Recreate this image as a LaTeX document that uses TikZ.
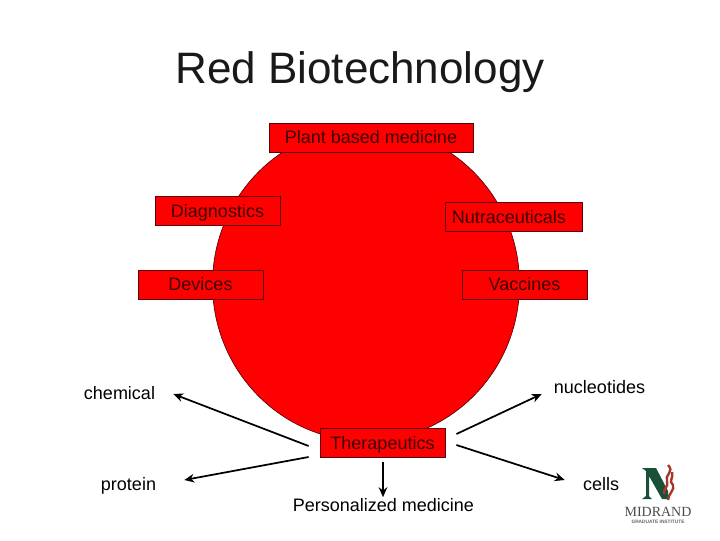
\documentclass[tikz,border=0pt]{standalone}
\usepackage{fontspec}
\setmainfont{Liberation Sans}
\newfontfamily\logofont{Liberation Serif}
\usetikzlibrary{arrows.meta}
\definecolor{boxred}{RGB}{255,0,0}
\definecolor{boxline}{RGB}{90,0,10}
\definecolor{boxtext}{RGB}{60,0,0}
\definecolor{logogreen}{RGB}{25,80,55}
\definecolor{logored}{RGB}{165,55,45}
\tikzset{
  box/.style={draw=boxline, line width=0.6pt, fill=boxred, text=boxtext, font=\fontsize{13.5}{16}\selectfont, inner sep=0pt, minimum height=21.75pt, text height=10.5pt, text depth=0.8pt},
  term/.style={text=black, font=\fontsize{13.5}{16}\selectfont, inner sep=0pt, text height=10.5pt, text depth=0.8pt},
  branch/.style={draw=black, line width=1.3pt, -{Stealth[length=7.5pt,width=6.5pt]}},
  ribbon/.style={draw=logored, line width=1.8pt}
}
\begin{document}
\begin{tikzpicture}[x=0.75pt, y=-0.75pt]
    \useasboundingbox (0, 0) rectangle (720, 540);
    \node[font=\fontsize{33}{38}\selectfont, inner sep=0pt, text=black!90] (title) at (360, 72) {Red Biotechnology};
    \draw[draw=boxline, line width=0.5pt, fill=boxred] (366, 284) ellipse [x radius=153.5, y radius=157];
    \node[box, minimum width=153pt] (plant) at (371, 137.5) {Plant based medicine};
    \node[box, minimum width=93.75pt] (diagnostics) at (217.5, 211) {Diagnostics};
    \node[box, minimum width=102.75pt] (nutraceuticals) at (513.5, 217) {Nutraceuticals\kern7pt};
    \node[box, minimum width=93.75pt] (devices) at (200.5, 284.5) {Devices};
    \node[box, minimum width=93.75pt] (vaccines) at (524.5, 284.5) {Vaccines};
    \node[box, minimum width=93.75pt] (therapeutics) at (382.5, 443) {Therapeutics};
    \node[term] (chemical) at (119.5, 393) {chemical};
    \node[term] (nucleotides) at (599.5, 387) {nucleotides};
    \node[term] (protein) at (128.5, 484) {protein};
    \node[term] (cells) at (601, 484) {cells};
    \node[term] (personalized) at (383.5, 505) {Personalized medicine};
    % arrows stop short of the boxes and labels
    \draw[branch] ([shift={(-11, 3)}]therapeutics.west) -- ([shift={(18, 1)}]chemical.east);
    \draw[branch] ([shift={(-11, 14)}]therapeutics.west) -- ([shift={(28, -4)}]protein.east);
    \draw[branch] ([shift={(11, -9)}]therapeutics.east) -- ([shift={(-12, 7)}]nucleotides.west);
    \draw[branch] ([shift={(11, 2)}]therapeutics.east) -- ([shift={(-18, -4)}]cells.west);
    \draw[branch] ([shift={(0.5, 4)}]therapeutics.south) -- ([shift={(-0.5, 0)}]personalized.north);
    % logo
    \fill[logogreen] (642, 468) -- (656, 468) -- (668, 491) -- (668, 499) -- (662, 499) -- (649, 476) -- (649, 496) -- (652, 499) -- (642, 499) -- (646, 496) -- (646, 471) -- cycle;
    \draw[ribbon] (668, 465) .. controls (675, 472) and (664, 475) .. (667, 481) .. controls (669, 486) and (663, 490) .. (664, 494);
    \draw[ribbon] (672, 472) .. controls (674, 478) and (668, 481) .. (673, 485) .. controls (675, 490) and (668, 494) .. (668, 500);
    \node[text=black!70, inner sep=0pt, font=\fontsize{10.5}{11}\selectfont\logofont] (midrand) at (658, 512) {MIDRAND};
    \node[text=black!60, inner sep=0pt, font=\fontsize{3.6}{4}\selectfont\bfseries] (institute) at (658, 522) {GRADUATE INSTITUTE};
\end{tikzpicture}
\end{document}
